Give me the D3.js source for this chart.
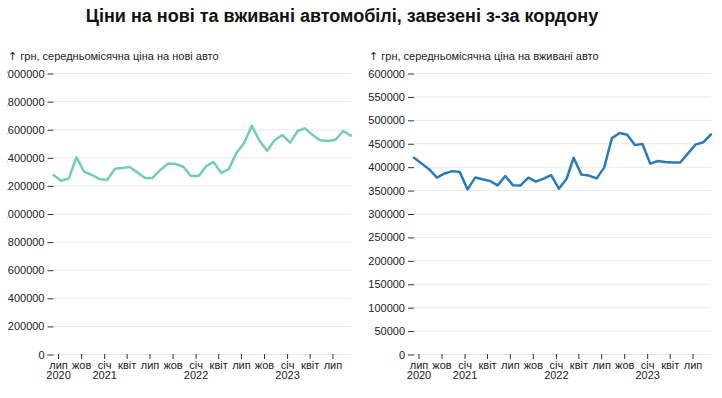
<!DOCTYPE html>
<html>
<head>
<meta charset="utf-8">
<script src="https://cdn.jsdelivr.net/npm/d3@7"></script>
<style>
  body { margin: 0; background: #fff; }
  svg { font-family: "Liberation Sans", Arial, sans-serif; }
</style>
</head>
<body>
<div id="chart"></div>
<script>
// months of the series (values are monthly averages, placed mid-month)
const months = [
  "2020-06", "2020-07", "2020-08", "2020-09", "2020-10", "2020-11", "2020-12",
  "2021-01", "2021-02", "2021-03", "2021-04", "2021-05", "2021-06", "2021-07",
  "2021-08", "2021-09", "2021-10", "2021-11", "2021-12", "2022-01", "2022-02",
  "2022-03", "2022-04", "2022-05", "2022-06", "2022-07", "2022-08", "2022-09",
  "2022-10", "2022-11", "2022-12", "2023-01", "2023-02", "2023-03", "2023-04",
  "2023-05", "2023-06", "2023-07", "2023-08", "2023-09"
];

// грн, average price of new cars
const newCarPrice = [
  1274000, 1233000, 1250000, 1400000, 1298000, 1274000, 1246000, 1238000,
  1319000, 1324000, 1331000, 1293000, 1253000, 1253000, 1310000, 1355000,
  1352000, 1333000, 1267000, 1267000, 1338000, 1367000, 1290000, 1314000,
  1433000, 1500000, 1625000, 1518000, 1447000, 1523000, 1559000, 1504000,
  1589000, 1606000, 1559000, 1521000, 1516000, 1525000, 1587000, 1554000
];

// грн, average price of used cars
const usedCarPrice = [
  419000, 407000, 394000, 376500, 385500, 390500, 388500, 351500,
  377000, 373000, 369500, 360000, 380000, 360500, 360000, 376500,
  368000, 374500, 382000, 353000, 374000, 419000, 383000, 381000,
  375000, 398000, 461000, 472000, 468000, 446000, 448500, 406500,
  412000, 410000, 409000, 409000, 428500, 447000, 452000, 469000
];

const newTicks = [0, 200000, 400000, 600000, 800000, 1000000, 1200000,
  1400000, 1600000, 1800000, 2000000];
const usedTicks = [0, 50000, 100000, 150000, 200000, 250000, 300000,
  350000, 400000, 450000, 500000, 550000, 600000];

const monthNames = ["січ", "лют", "бер", "квіт", "трав", "черв",
  "лип", "серп", "вер", "жов", "лист", "груд"];

const title = "Ціни на нові та вживані автомобілі, завезені з-за кордону";

const width = 722, height = 398;
const plotTop = 73, plotBottom = 354;

const svg = d3.select("#chart")
  .append("svg")
    .attr("width", width)
    .attr("height", height);

svg.append("text")
    .attr("x", 342)
    .attr("y", 22)
    .attr("text-anchor", "middle")
    .style("font-size", "18px")
    .style("font-weight", "bold")
    .style("fill", "#111")
    .text(title);

const parseMonth = d3.utcParse("%Y-%m");

function drawPanel(opts) {
  const data = months.map((m, i) => ({
    date: d3.utcDay.offset(parseMonth(m), 14),
    value: opts.values[i]
  }));

  const g = svg.append("g");
  if (opts.clip) {
    svg.append("clipPath").attr("id", opts.id + "-clip")
      .append("rect")
        .attr("x", opts.clip[0]).attr("y", 0)
        .attr("width", opts.clip[1] - opts.clip[0]).attr("height", height);
    g.attr("clip-path", `url(#${opts.id}-clip)`);
  }

  const x = d3.scaleUtc()
      .domain(d3.extent(data, d => d.date))
      .range([opts.left, opts.right]);

  const y = d3.scaleLinear()
      .domain([0, d3.max(opts.ticks)])
      .range([plotBottom, plotTop]);

  // grid
  g.append("g")
    .selectAll("line")
    .data(opts.ticks)
    .join("line")
      .attr("x1", opts.left)
      .attr("x2", opts.right)
      .attr("y1", d => y(d) + 0.5)
      .attr("y2", d => y(d) + 0.5)
      .attr("stroke", "#e9e9e9");

  // y axis
  g.append("g")
      .attr("transform", `translate(${opts.left},0.5)`)
      .call(d3.axisLeft(y).tickValues(opts.ticks).tickFormat(d3.format("d"))
        .tickSize(6).tickPadding(3))
      .call(a => a.select(".domain").remove())
      .call(a => a.selectAll(".tick line").attr("stroke", "#333"))
      .call(a => a.selectAll(".tick text")
        .style("font-size", "11px").attr("font-family", null).attr("fill", "#222"));

  // x axis
  const xTicks = x.ticks(d3.utcMonth.every(3));
  g.append("g")
      .attr("transform", `translate(0.5,${plotBottom})`)
      .call(d3.axisBottom(x).tickValues(xTicks).tickSize(5).tickFormat(""))
      .call(a => a.select(".domain").remove())
      .call(a => a.selectAll(".tick line").attr("stroke", "#333"))
      .call(a => a.selectAll(".tick").each(function(d, i) {
        const t = d3.select(this).append("text")
            .attr("fill", "#222")
            .attr("text-anchor", "middle")
            .style("font-size", "11px");
        t.append("tspan").attr("x", 0).attr("y", 14.5)
            .text(monthNames[d.getUTCMonth()]);
        if (i === 0 || d.getUTCMonth() === 0) {
          t.append("tspan").attr("x", 0).attr("y", 25)
              .text(d.getUTCFullYear());
        }
      }));

  // axis title
  const lbl = g.append("text")
      .attr("x", opts.labelX)
      .attr("y", 60)
      .style("font-size", "11px")
      .attr("fill", "#222");
  lbl.append("tspan")
      .style("font-family", '"DejaVu Sans", sans-serif')
      .attr("fill", "#222")
      .text("↑");
  lbl.append("tspan").text(" " + opts.label);

  const line = d3.line()
      .x(d => x(d.date))
      .y(d => y(d.value));

  g.append("path")
      .datum(data)
      .attr("fill", "none")
      .attr("stroke", opts.color)
      .attr("stroke-width", 2.5)
      .attr("stroke-linejoin", "round")
      .attr("stroke-linecap", "round")
      .attr("d", line);
}

drawPanel({
  id: "new",
  values: newCarPrice,
  ticks: newTicks,
  left: 53.5,
  right: 351,
  labelX: 8,
  clip: [7, 362],
  color: "#72cfae",
  label: "грн, середньомісячна ціна на нові авто"
});

drawPanel({
  id: "used",
  values: usedCarPrice,
  ticks: usedTicks,
  left: 414,
  right: 711,
  labelX: 369,
  color: "#2b7bba",
  label: "грн, середньомісячна ціна на вживані авто"
});
</script>
</body>
</html>
